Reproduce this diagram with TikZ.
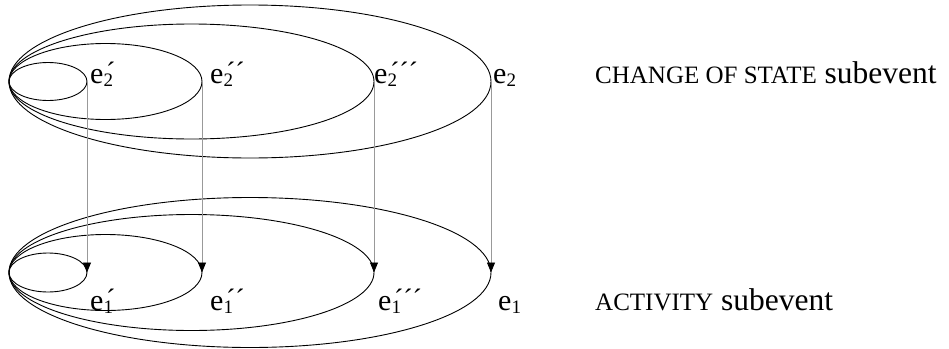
\documentclass[tikz,border=0pt]{standalone}
\usepackage{fontspec}
\setmainfont{Liberation Serif}
\usetikzlibrary{arrows.meta}
\newcommand\ev[2]{e\makebox[0pt][l]{\raisebox{-3.5pt}{\fontsize{19}{19}\selectfont #1}}\hspace{2.5pt}\raisebox{2pt}{\fontsize{28}{28}\selectfont #2}}
\newcommand\capsz[1]{{\fontsize{25}{25}\selectfont #1}}
\begin{document}
\begin{tikzpicture}[x=1pt,y=-1pt,
  ring/.style={draw=black,line width=0.9pt},
  lbl/.style={anchor=base west,inner sep=0pt,font=\fontsize{30}{30}\selectfont},
  side/.style={anchor=base west,inner sep=0pt,font=\fontsize{31.5}{31.5}\selectfont},
  link/.style={draw=gray!80,line width=0.8pt,-{Triangle[width=8pt,length=10pt,color=black]}}]
\useasboundingbox (0,0) rectangle (949,348);
% top group (change of state)
\draw[ring] (48,81.5) ellipse [x radius=39, y radius=19];
\draw[ring] (105.5,81.5) ellipse [x radius=96.5, y radius=38];
\draw[ring] (191.5,81.5) ellipse [x radius=182.5, y radius=57.5];
\draw[ring] (250,81.5) ellipse [x radius=241, y radius=76.5];
\coordinate (t1) at (87,81.5);
\coordinate (t2) at (202,81.5);
\coordinate (t3) at (374,81.5);
\coordinate (t4) at (491,81.5);
% bottom group (activity)
\draw[ring] (48,272.5) ellipse [x radius=39, y radius=19.5];
\draw[ring] (105.5,272.5) ellipse [x radius=96.5, y radius=38];
\draw[ring] (191.5,272.5) ellipse [x radius=182.5, y radius=58];
\draw[ring] (250,272.5) ellipse [x radius=241, y radius=75];
\coordinate (b1) at (87,272.5);
\coordinate (b2) at (202,272.5);
\coordinate (b3) at (374,272.5);
\coordinate (b4) at (491,272.5);
% connectors
\draw[link] (t1) -- (b1);
\draw[link] (t2) -- (b2);
\draw[link] (t3) -- (b3);
\draw[link] (t4) -- (b4);
% labels
\node[lbl] (l21) at (90,83) {\ev{2}{´}};
\node[lbl] (l22) at (210,83) {\ev{2}{´´}};
\node[lbl] (l23) at (374,83) {\ev{2}{´´´}};
\node[lbl] (l24) at (493,83) {\ev{2}{}};
\node[lbl] (l11) at (90,310) {\ev{1}{´}};
\node[lbl] (l12) at (210,310) {\ev{1}{´´}};
\node[lbl] (l13) at (378,310) {\ev{1}{´´´}};
\node[lbl] (l14) at (498,310) {\ev{1}{}};
\node[side] (cos) at (595,83) {\capsz{CHANGE OF STATE} subevent};
\node[side] (act) at (595,310) {\capsz{ACTIVITY} subevent};
\end{tikzpicture}
\end{document}
